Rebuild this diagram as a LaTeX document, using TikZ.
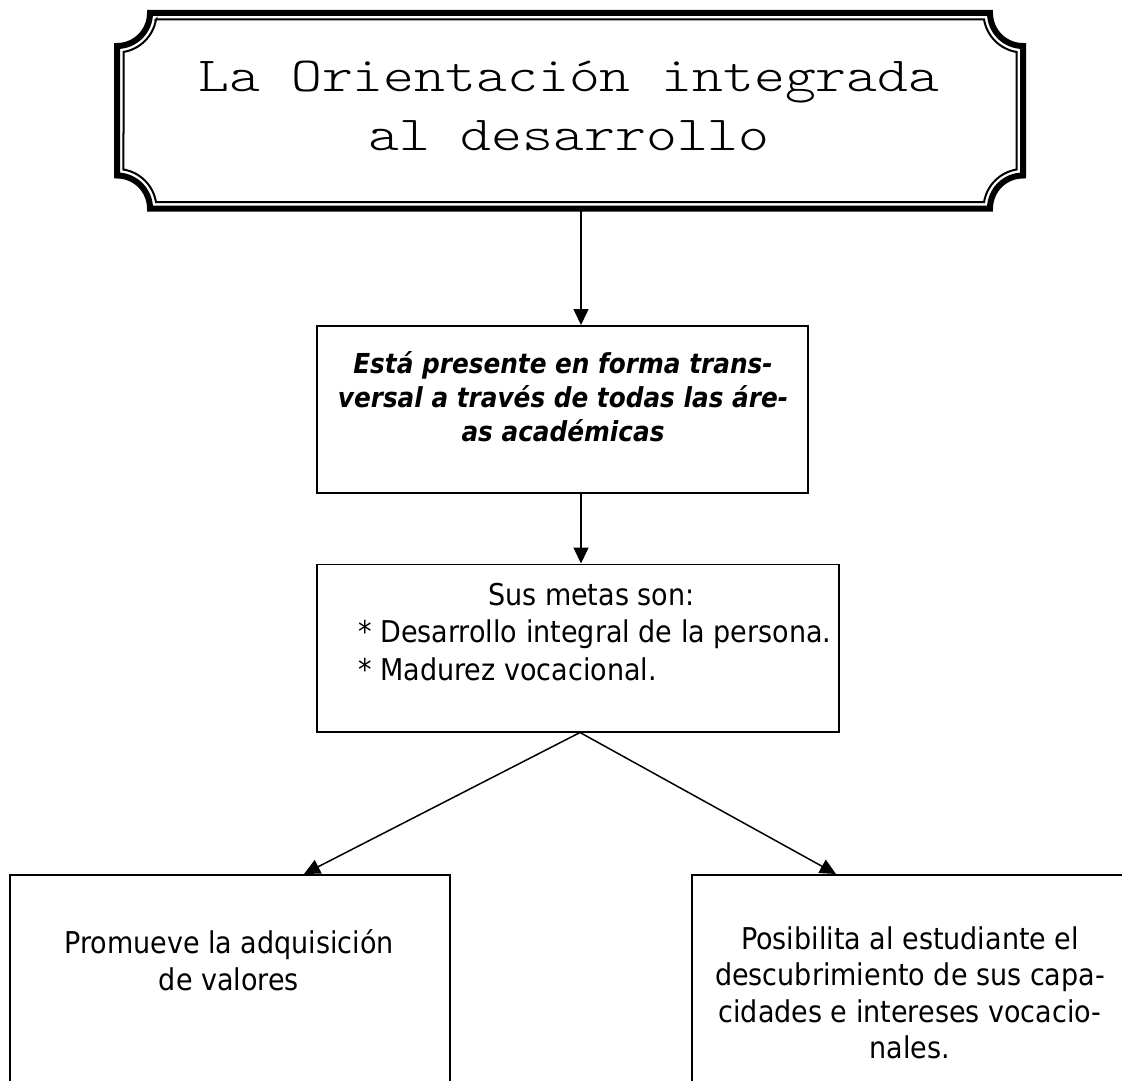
\documentclass[tikz,border=0pt]{standalone}
\usepackage{fontspec}
\newfontfamily\tah[FakeStretch=0.9]{DejaVu Sans}
\newfontfamily\cour[FakeStretch=1.2]{lmmonolt10-regular.otf}
\usetikzlibrary{arrows.meta}
\begin{document}
\begin{tikzpicture}[x=1pt,y=-1pt,
  box/.style={draw, line width=1.5pt, inner sep=0pt, anchor=north west},
  arr/.style={line width=1.5pt, -{Triangle[length=16pt,width=15pt]}},
  ttl/.style={font=\cour\fontsize{49}{58}\selectfont, inner sep=0pt, anchor=base},
  txt/.style={font=\tah\fontsize{30}{37}\selectfont, inner sep=0pt, anchor=base},
  bi/.style={font=\tah\bfseries\itshape\fontsize{27.5}{34}\selectfont, inner sep=0pt, anchor=base}]
\clip (0,0) rectangle (1122,1081);
% title frame
\node[minimum width=906pt, minimum height=195.5pt, inner sep=0pt] (frame) at (570,110.75) {};
\coordinate (ax) at (581,0);
\coordinate (jx) at (580,0);
% boxes
\node[box, minimum width=491pt, minimum height=167pt] (b2) at (316,325) {};
\node[box, minimum width=522pt, minimum height=167.5pt] (b3) at (316,563.5) {};
\node[box, minimum width=440pt, minimum height=250pt] (b4) at (9,874) {};
\node[box, minimum width=440pt, minimum height=250pt] (b5) at (691,874) {};
\coordinate (t4) at (304,874);
\coordinate (t5) at (836,874);
% arrows
\draw[arr] (frame.south -| ax) -- (b2.north -| ax);
\draw[arr] (b2.south -| ax) -- (b3.north -| ax);
\draw[arr] (b3.south -| jx) -- (t4);
\draw[arr] (b3.south -| jx) -- (t5);
% frame drawing
\draw[line width=6pt, fill=white] (150,13) -- (990,13) arc[start angle=180,end angle=90,radius=33]
  -- (1023,175.5) arc[start angle=270,end angle=180,radius=33]
  -- (150,208.5) arc[start angle=360,end angle=270,radius=33]
  -- (117,46) arc[start angle=90,end angle=0,radius=33] -- cycle;
\draw[line width=2pt] (155.96,19.5) -- (984.04,19.5) arc[start angle=170.53,end angle=99.47,radius=39.5]
  -- (1016.5,169.54) arc[start angle=260.53,end angle=189.47,radius=39.5]
  -- (155.96,202) arc[start angle=350.53,end angle=279.47,radius=39.5]
  -- (123.5,51.96) arc[start angle=80.53,end angle=9.47,radius=39.5] -- cycle;
% title text
\node[ttl] (t1) at (569,92) {La Orientación integrada};
\node[ttl] (t2) at (569,150) {al desarrollo};
% box 2 text
\node[bi] (b2a) at (563,373) {Está presente en forma trans-};
\node[bi] (b2b) at (563,407) {versal a través de todas las áre-};
\node[bi] (b2c) at (563,441) {as académicas};
% box 3 text
\node[txt, anchor=base west] (b3a) at (488,605) {Sus metas son:};
\node[txt, anchor=base west] (b3b) at (358,642.5) {* Desarrollo integral de la persona.};
\node[txt, anchor=base west] (b3c) at (358,680) {* Madurez vocacional.};
% box 4 text
\node[txt] (b4a) at (229,953) {Promueve la adquisición};
\node[txt] (b4b) at (229,990) {de valores};
% box 5 text
\node[txt] (b5a) at (910,949) {Posibilita al estudiante el};
\node[txt] (b5b) at (910,985.5) {descubrimiento de sus capa-};
\node[txt] (b5c) at (910,1022) {cidades e intereses vocacio-};
\node[txt] (b5d) at (910,1058.5) {nales.};
\end{tikzpicture}
\end{document}
